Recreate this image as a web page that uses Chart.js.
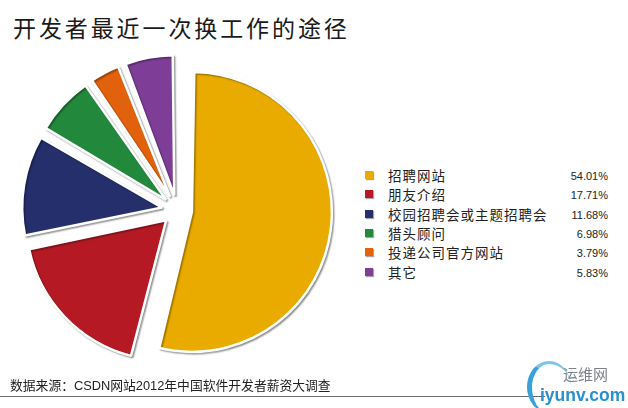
<!DOCTYPE html>
<html>
<head>
<meta charset="utf-8">
<script src="https://cdn.jsdelivr.net/npm/chart.js@4"></script>
<style>
  html,body{margin:0;padding:0;background:#fff;}
  #wrap{position:relative;width:628px;height:408px;overflow:hidden;background:#fff;}
  #title{position:absolute;left:13px;top:10px;font-family:"Noto Sans CJK SC";font-size:23px;color:#1a1a1a;letter-spacing:2.9px;white-space:nowrap;}
  #pie{position:absolute;left:7px;top:40px;}
  .row{position:absolute;left:363px;height:18px;width:245px;}
  .sw{position:absolute;left:2px;top:5px;width:8px;height:8px;box-shadow:1px 1px 1px rgba(0,0,0,0.35);}
  .lab{position:absolute;left:25px;top:0;font-family:"Noto Sans CJK SC";font-size:13.5px;letter-spacing:1px;line-height:18px;color:#222;white-space:nowrap;}
  .pct{position:absolute;right:0;top:1px;font-family:"Liberation Sans";font-size:11px;line-height:18px;color:#222;}
  #src{position:absolute;left:10px;top:375px;font-family:"Liberation Sans","Noto Sans CJK SC";font-size:12.8px;color:#222;white-space:nowrap;}
  #rule{position:absolute;left:0;top:396px;width:545px;height:1px;background:#6e6e6e;}
  #logo1{position:absolute;left:563px;top:363px;font-family:"Noto Sans CJK SC";font-size:15px;color:#7d828a;}
  #logo2{position:absolute;left:540px;top:385px;font-family:"Liberation Sans";font-weight:bold;font-size:17.5px;color:#2a8fd0;}
  #arc{position:absolute;left:527px;top:361px;width:44px;height:52px;border-radius:50%;border-left:5px solid #3aa0dc;border-top:3px solid #7cc4ec;box-sizing:border-box;}
</style>
</head>
<body>
<div id="wrap">
  <div id="title">开发者最近一次换工作的途径</div>
  <canvas id="pie" width="340" height="340"></canvas>
  <div id="legend"></div>
  <div id="src">数据来源：CSDN网站2012年中国软件开发者薪资大调查</div>
  <div id="rule"></div>
  <div id="arc"></div>
  <div id="logo1">运维网</div>
  <div id="logo2">iyunv.com</div>
</div>
<script>
const categories = ["招聘网站", "朋友介绍", "校园招聘会或主题招聘会", "猎头顾问", "投递公司官方网站", "其它"];
const values = [54.01, 17.71, 11.68, 6.98, 3.79, 5.83];
const percentLabels = ["54.01%", "17.71%", "11.68%", "6.98%", "3.79%", "5.83%"];
const colors = ["#E9AB00", "#B51A24", "#252F6C", "#22893C", "#E2610C", "#7E3E98"];

const RADIUS = 140;
const OFFSET = 60;

// legend
const legend = document.getElementById('legend');
categories.forEach((c, i) => {
  const row = document.createElement('div');
  row.className = 'row';
  row.style.top = (166 + i * 19.3) + 'px';
  row.innerHTML = '<div class="sw" style="background:' + colors[i] + '"></div>' +
    '<div class="lab">' + c + '</div><div class="pct">' + percentLabels[i] + '</div>';
  legend.appendChild(row);
});

const pieFix = {
  id: 'pieFix',
  beforeDatasetDraw(chart, args) {
    args.meta.data.forEach(arc => {
      const o = (arc.options.offset || 0) / 4;
      const fix = 1 - Math.sin(Math.min(Math.PI, arc.circumference));
      arc.outerRadius = RADIUS - o * fix;
    });
    const ctx = chart.ctx;
    ctx.save();
    ctx.shadowColor = 'rgba(0,0,0,0.33)';
    ctx.shadowBlur = 1.5;
    ctx.shadowOffsetX = 1.5;
    ctx.shadowOffsetY = 1.5;
  },
  afterDatasetDraw(chart) {
    chart.ctx.restore();
  }
};

new Chart(document.getElementById('pie'), {
  type: 'pie',
  data: {
    labels: categories,
    datasets: [{
      data: values,
      backgroundColor: colors,
      borderColor: '#ffffff',
      borderWidth: 2.5,
      offset: OFFSET,
      hoverOffset: OFFSET,
      clip: false
    }]
  },
  options: {
    responsive: false,
    animation: false,
    devicePixelRatio: 1,
    radius: RADIUS,
    layout: { padding: 0 },
    events: [],
    plugins: { legend: { display: false }, tooltip: { enabled: false } }
  },
  plugins: [pieFix]
});
</script>
</body>
</html>
